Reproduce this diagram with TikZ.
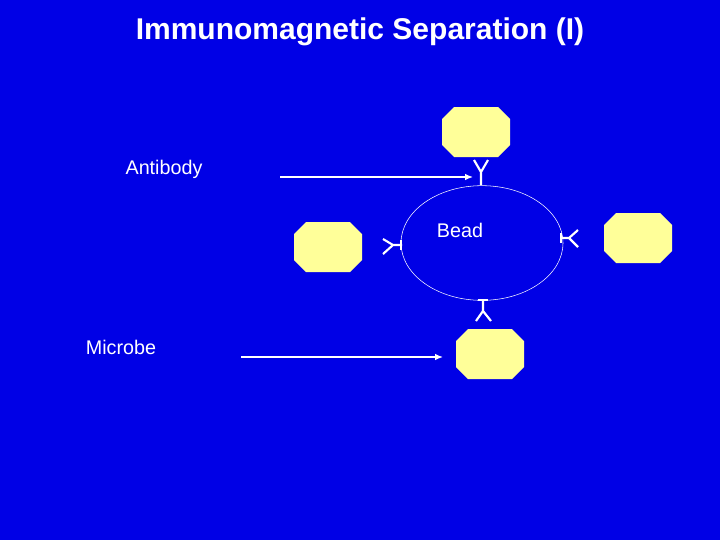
\documentclass[tikz,border=0pt]{standalone}
\usepackage{fontspec}
\setmainfont{Liberation Sans}
\usetikzlibrary{shapes.geometric,arrows.meta}
\definecolor{bg}{RGB}{0,0,230}
\definecolor{cell}{RGB}{255,255,153}
\begin{document}
\begin{tikzpicture}[x=0.75pt,y=-0.75pt,
  lbl/.style={text=white,font=\fontsize{14.8}{17}\selectfont},
  ab/.style={white,line width=1.6pt},
  arr/.style={white,line width=1pt,-{Latex[length=6pt,width=5pt]}}]
\newcommand\octa[1]{\fill[cell] ([shift={(-34,-13)}]#1) -- ([shift={(-22,-25)}]#1) -- ([shift={(22,-25)}]#1) -- ([shift={(34,-13)}]#1) -- ([shift={(34,13)}]#1) -- ([shift={(22,25)}]#1) -- ([shift={(-22,25)}]#1) -- ([shift={(-34,13)}]#1) -- cycle;}
\fill[bg] (0,0) rectangle (720,540);
\useasboundingbox (0,0) rectangle (720,540);
\node[text=white,font=\bfseries\fontsize{22.5}{26}\selectfont] (title) at (360,32) {Immunomagnetic Separation (I)};
\node[draw=white,thin,ellipse,minimum width=121.5pt,minimum height=86pt] (bead) at (482,243) {};
\node[lbl] (beadl) at (460,230) {Bead};
\coordinate (m1) at (476,132); \octa{m1}
\coordinate (m2) at (328,247); \octa{m2}
\coordinate (m3) at (638,238); \octa{m3}
\coordinate (m4) at (490,354); \octa{m4}
% antibodies
\coordinate (a1) at (481,185);
\draw[ab] (a1) -- (481,172) -- (474,160) (481,172) -- (488,160);
\coordinate (a2) at (402,245);
\draw[ab] (a2) -- (393,245) -- (383,239) (393,245) -- (383,254);
\draw[ab] (401,240) -- (401,250);
\coordinate (a3) at (562,238);
\draw[ab] (a3) -- (569,238) -- (578,230) (569,238) -- (578,247);
\draw[ab] (561,233) -- (561,243);
\coordinate (a4) at (483,300);
\draw[ab] (a4) -- (483,311) -- (476,321) (483,311) -- (491,321);
\draw[ab] (478,300) -- (488,300);
\node[lbl] (antibody) at (164,169) {Antibody};
\node[lbl] (microbe) at (121,347) {Microbe};
\coordinate (s1) at (280,177);
\coordinate (e1) at (473,177);
\draw[arr] (s1) -- (e1);
\coordinate (s2) at (241,357);
\coordinate (e2) at (443,357);
\draw[arr] (s2) -- (e2);
\end{tikzpicture}
\end{document}
